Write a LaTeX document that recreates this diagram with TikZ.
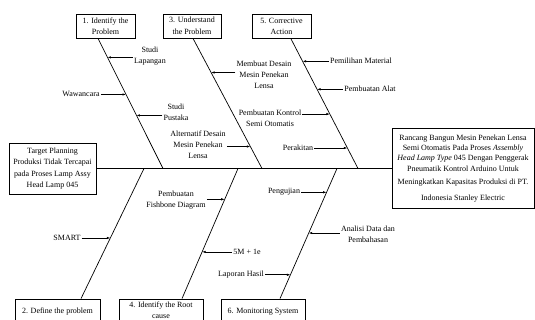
\documentclass[tikz,border=0pt]{standalone}
\usepackage{fontspec}
\setmainfont{Liberation Serif}
\usetikzlibrary{arrows.meta}

\begin{document}
\begin{tikzpicture}[x=1pt,y=-1pt,
    box/.style={rectangle, draw, line width=.8pt, align=center, inner sep=1pt,
      font=\fontsize{8}{11.5}\selectfont},
    lbl/.style={align=center, inner sep=1pt, font=\fontsize{8}{11}\selectfont},
    bone/.style={line width=.7pt},
    arr/.style={-{Latex[length=3.5pt,width=2.4pt]}, line width=.6pt}]
  \useasboundingbox (0,0) rectangle (535,320);
  \clip (0,0) rectangle (535,320);

  % tail and head of the fish
  \node[box, minimum width=87pt, minimum height=51pt] (problem) at (52.5,168.5)
       {Target Planning\\Produksi Tidak Tercapai\\pada Proses Lamp Assy\\Head Lamp 045};
  \node[box, minimum width=142pt, minimum height=80pt,
        font=\fontsize{8}{10}\selectfont] (goal) at (463,168.5)
       {Rancang Bangun Mesin Penekan Lensa\\
        Semi Otomatis Pada Proses \textit{Assembly}\\
        \textit{Head Lamp Type} 045 Dengan Penggerak\\[1pt]
        Pneumatik Kontrol Arduino Untuk\\[3pt]
        Meningkatkan Kapasitas Produksi di PT.\\[6pt]
        Indonesia Stanley Electric};
  \draw[line width=1pt] (problem.east) -- (goal.west);

  % steps
  \node[box, minimum width=59pt, minimum height=24pt] (identify) at (105.5,26)
       {1. Identify the\\Problem};
  \node[box, minimum width=58pt, minimum height=24pt] (understand) at (192,26)
       {3. Understand\\the Problem};
  \node[box, minimum width=59pt, minimum height=24pt] (corrective) at (281.5,26.5)
       {5. Corrective\\Action};
  \node[box, minimum width=85pt, minimum height=26pt] (define) at (57.5,312)
       {2. Define the problem};
  \node[box, minimum width=84pt, minimum height=22pt,
        font=\fontsize{8}{11}\selectfont] (root) at (161,310)
       {4. Identify the Root\\cause};
  \node[box, minimum width=84pt, minimum height=26pt] (monitor) at (263,312)
       {6. Monitoring System};

  % joints on the spine
  \coordinate (j1) at (163,168.5);
  \coordinate (j3) at (262,168.5);
  \coordinate (j5) at (358,168.5);
  \coordinate (j2) at (144,168.5);
  \coordinate (j4) at (238,168.5);
  \coordinate (j6) at (337,168.5);

  % bones
  \draw[bone] ([xshift=-7.5pt]identify.south) -- (j1)
       coordinate[pos=.146] (i1) coordinate[pos=.431] (i2) coordinate[pos=.592] (i3);
  \draw[bone] ([xshift=1pt]understand.south) -- (j3)
       coordinate[pos=.262] (u1) coordinate[pos=.831] (u2);
  \draw[bone] ([xshift=9.5pt]corrective.south) -- (j5)
       coordinate[pos=.173] (c1) coordinate[pos=.389] (c2)
       coordinate[pos=.58] (c3) coordinate[pos=.842] (c4);
  \draw[bone] (j2) -- ([xshift=23.5pt]define.north)
       coordinate[pos=.534] (d1);
  \draw[bone] (j4) -- ([xshift=21pt]root.north)
       coordinate[pos=.237] (r1) coordinate[pos=.641] (r2);
  \draw[bone] (j6) -- ([xshift=17pt]monitor.north)
       coordinate[pos=.183] (m1) coordinate[pos=.496] (m2) coordinate[pos=.817] (m3);

  % causes, top
  \node[lbl] (lapangan) at (150,56) {Studi\\Lapangan};
  \draw[arr] (i1 -| lapangan.west) -- (i1);
  \node[lbl] (wawancara) at (81,94) {Wawancara};
  \draw[arr] (i2 -| wawancara.east) -- (i2);
  \node[lbl] (pustaka) at (176,112) {Studi\\Pustaka};
  \draw[arr] (i3 -| pustaka.west) -- (i3);

  \node[lbl] (membuat) at (264,75) {Membuat Desain\\Mesin Penekan\\Lensa};
  \draw[arr] (u1 -| membuat.west) -- (u1);
  \node[lbl] (alternatif) at (198,145) {Alternatif Desain\\Mesin Penekan\\Lensa};
  \draw[arr] (u2 -| alternatif.east) -- (u2);

  \node[lbl] (material) at (361,61) {Pemilihan Material};
  \draw[arr] (c1 -| material.west) -- (c1);
  \node[lbl] (alat) at (370,89) {Pembuatan Alat};
  \draw[arr] (c2 -| alat.west) -- (c2);
  \node[lbl] (kontrol) at (270,118.5) {Pembuatan Kontrol\\Semi Otomatis};
  \draw[arr] (c3 -| kontrol.east) -- (c3);
  \node[lbl] (perakitan) at (298,148) {Perakitan};
  \draw[arr] (c4 -| perakitan.east) -- (c4);

  % causes, bottom
  \node[lbl] (smart) at (67,238) {SMART};
  \draw[arr] (d1 -| smart.east) -- (d1);
  \node[lbl] (fishbone) at (176,200) {Pembuatan\\Fishbone Diagram};
  \draw[arr] (r1 -| fishbone.east) -- (r1);
  \node[lbl] (limaM) at (247,252) {5M + 1e};
  \draw[arr] (r2 -| limaM.west) -- (r2);
  \node[lbl] (pengujian) at (284,192) {Pengujian};
  \draw[arr] (m1 -| pengujian.east) -- (m1);
  \node[lbl] (analisis) at (368,234) {Analisi Data dan\\Pembahasan};
  \draw[arr] (m2 -| analisis.west) -- (m2);
  \node[lbl] (laporan) at (241,275) {Laporan Hasil};
  \draw[arr] (m3 -| laporan.east) -- (m3);
\end{tikzpicture}
\end{document}
